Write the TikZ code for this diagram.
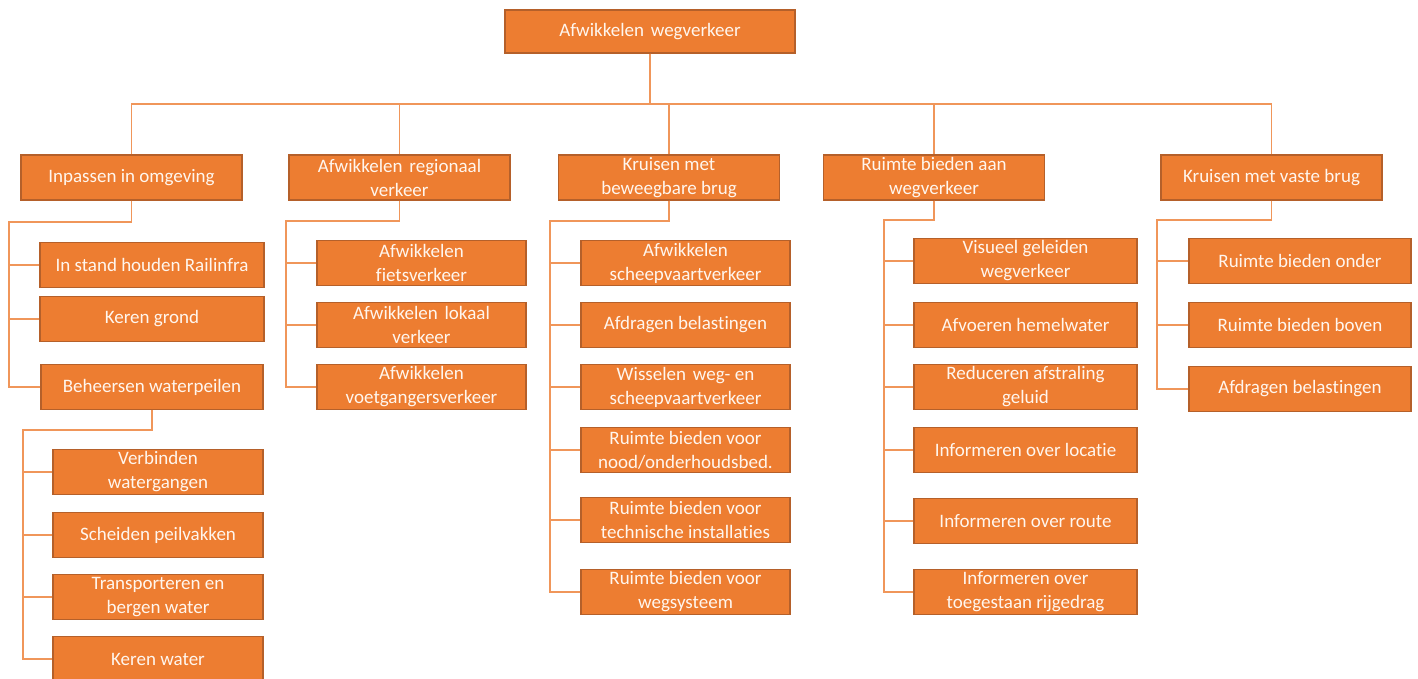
\documentclass[tikz,border=0pt]{standalone}
\usepackage{fontspec}
\setmainfont{Carlito}[RawFeature={-liga;-clig;-dlig}]
\definecolor{boxfill}{HTML}{ED7D31}
\definecolor{boxline}{HTML}{B5602A}
\definecolor{conncol}{HTML}{F0965A}
\definecolor{txt}{HTML}{FFF6EE}
\newcommand{\wsp}{\ \hspace{2.5pt}}
\begin{document}
\begin{tikzpicture}[x=1pt,y=-1pt,
  box/.style={draw=boxline,fill=boxfill,line width=1.4pt,text=txt,align=center,
    inner sep=0pt,minimum height=45pt,font=\fontsize{19}{24}\selectfont},
  conn/.style={draw=conncol,line width=1.3pt}]
\useasboundingbox (0,0) rectangle (1418,678);
\clip (0,0) rectangle (1418,678);
% top
\node[box,minimum width=290pt,minimum height=43pt] (top) at (650,31.5) {Afwikkelen\wsp wegverkeer};
% level 1
\node[box,minimum width=221pt] (A) at (131.5,177.5) {Inpassen in omgeving};
\node[box,minimum width=221pt] (B) at (399.5,177.5) {Afwikkelen\wsp regionaal\\verkeer};
\node[box,minimum width=221pt] (C) at (669,177.5) {Kruisen met\\beweegbare brug};
\node[box,minimum width=221pt] (D) at (934,177.5) {Ruimte bieden aan\\wegverkeer};
\node[box,minimum width=221pt] (E) at (1271.5,177.5) {Kruisen met vaste brug};
\coordinate (topbus) at (650,104);
\foreach \n in {A,B,C,D,E}{
  \draw[conn] (top.south) -- (top.south |- topbus) -| (\n.north);
}
% A children
\node[box,minimum width=224pt] (A1) at (152,265) {In stand houden Railinfra};
\node[box,minimum width=224pt] (A2) at (152,319) {Keren grond};
\node[box,minimum width=222pt] (A3) at (152,387) {Beheersen waterpeilen};
\foreach \n in {A1,A2,A3}{\draw[conn] (A.south) |- (9,222) |- (\n.west);}
% A3 children
\node[box,minimum width=210pt] (A31) at (158,472) {Verbinden\\watergangen};
\node[box,minimum width=210pt] (A32) at (158,535) {Scheiden peilvakken};
\node[box,minimum width=210pt] (A33) at (158,597) {Transporteren en\\bergen water};
\node[box,minimum width=210pt] (A34) at (158,659) {Keren water};
\foreach \n in {A31,A32,A33,A34}{\draw[conn] (A3.south) |- (23,430) |- (\n.west);}
% B children
\node[box,minimum width=209pt] (B1) at (421.5,263) {Afwikkelen\\fietsverkeer};
\node[box,minimum width=209pt] (B2) at (421.5,325) {Afwikkelen\wsp lokaal\\verkeer};
\node[box,minimum width=209pt] (B3) at (421.5,387) {Afwikkelen\\voetgangersverkeer};
\foreach \n in {B1,B2,B3}{\draw[conn] (B.south) |- (286,221) |- (\n.west);}
% C children
\node[box,minimum width=209pt] (C1) at (685.5,263) {Afwikkelen\\scheepvaartverkeer};
\node[box,minimum width=209pt] (C2) at (685.5,325) {Afdragen belastingen};
\node[box,minimum width=209pt] (C3) at (685.5,387) {Wisselen\wsp weg- en\\scheepvaartverkeer};
\node[box,minimum width=209pt] (C4) at (685.5,450) {Ruimte bieden voor\\nood/onderhoudsbed.};
\node[box,minimum width=209pt] (C5) at (685.5,520) {Ruimte bieden voor\\technische installaties};
\node[box,minimum width=209pt] (C6) at (685.5,592) {Ruimte bieden voor\\wegsysteem};
\foreach \n in {C1,C2,C3,C4,C5,C6}{\draw[conn] (C.south) |- (550,221) |- (\n.west);}
% D children
\node[box,minimum width=223pt] (D1) at (1025.5,261) {Visueel geleiden\\wegverkeer};
\node[box,minimum width=223pt] (D2) at (1025.5,325) {Afvoeren hemelwater};
\node[box,minimum width=223pt] (D3) at (1025.5,387) {Reduceren afstraling\\geluid};
\node[box,minimum width=223pt] (D4) at (1025.5,450) {Informeren over locatie};
\node[box,minimum width=223pt] (D5) at (1025.5,521) {Informeren over route};
\node[box,minimum width=223pt] (D6) at (1025.5,592) {Informeren over\\toegestaan rijgedrag};
\foreach \n in {D1,D2,D3,D4,D5,D6}{\draw[conn] (D.south) |- (884,220) |- (\n.west);}
% E children
\node[box,minimum width=222pt] (E1) at (1300,261) {Ruimte bieden onder};
\node[box,minimum width=222pt] (E2) at (1300,325) {Ruimte bieden boven};
\node[box,minimum width=222pt] (E3) at (1300,389) {Afdragen belastingen};
\foreach \n in {E1,E2,E3}{\draw[conn] (E.south) |- (1157,220) |- (\n.west);}
\end{tikzpicture}
\end{document}
